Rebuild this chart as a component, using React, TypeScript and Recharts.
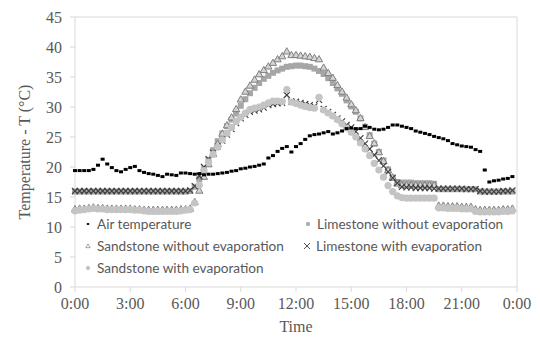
import React from 'react';
import { LineChart, Line, XAxis, YAxis, ReferenceLine, Label } from 'recharts';

// quarter-hour samples, 0:00 .. 23:45
const hours: number[] = Array.from({ length: 96 }, (_, i) => i / 4);

const tickHours = [0, 3, 6, 9, 12, 15, 18, 21, 24];
const tickLabels = ['0:00', '3:00', '6:00', '9:00', '12:00', '15:00', '18:00', '21:00', '0:00'];
const yTicks = [0, 5, 10, 15, 20, 25, 30, 35, 40, 45];

const airTemperature = [
  19.4, 19.4, 19.4, 19.4, 19.6, 20.3, 21.3, 20.5, 19.9, 19.4, 19.2, 19.6,
  19.9, 20.1, 19.4, 19.1, 18.9, 18.8, 18.6, 18.4, 18.8, 18.7, 18.6, 19.0,
  19.0, 18.9, 18.8, 18.9, 18.7, 18.8, 18.8, 18.9, 19.0, 19.1, 19.3, 19.4,
  19.7, 19.8, 20.0, 20.1, 20.3, 20.5, 21.5, 21.9, 22.6, 23.1, 23.4, 22.5,
  23.4, 23.9, 24.6, 25.2, 25.4, 25.5, 25.7, 25.9, 25.5, 25.7, 26.0, 26.4,
  26.5, 26.4, 26.4, 26.8, 26.6, 26.3, 26.2, 26.3, 26.6, 27.0, 27.0, 26.8,
  26.6, 26.4, 26.0, 25.8, 25.6, 25.4, 25.1, 24.9, 24.7, 24.4, 23.9, 23.7,
  23.5, 23.4, 23.3, 22.9, 22.6, 19.5, 17.5, 17.7, 17.8, 18.0, 18.1, 18.4,
];

const limestoneWithout = [
  15.9, 15.9, 15.9, 15.9, 15.9, 15.9, 15.9, 15.9, 15.9, 15.9, 15.9, 15.9,
  15.9, 15.9, 15.9, 15.9, 15.9, 15.9, 15.9, 15.9, 15.9, 15.9, 15.9, 15.9,
  15.9, 16.0, 16.7, 18.0, 19.6, 21.2, 22.8, 24.3, 25.6, 26.8, 27.9, 28.9,
  30.2, 31.3, 32.3, 33.2, 34.0, 34.7, 35.2, 35.7, 36.1, 36.4, 36.7, 36.8,
  36.9, 36.9, 36.8, 36.7, 36.4, 36.0, 35.5, 34.8, 34.0, 33.1, 32.2, 31.1,
  30.1, 29.2, 28.1, 26.7, 25.3, 23.9, 22.5, 21.1, 19.6, 18.2, 17.5, 17.4,
  17.4, 17.4, 17.3, 17.3, 17.3, 17.3, 17.2, 16.3, 16.3, 16.3, 16.3, 16.3,
  16.3, 16.3, 16.3, 16.3, 15.9, 15.9, 15.9, 15.9, 15.9, 15.9, 15.9, 15.9,
];

const sandstoneWithout = [
  13.0, 13.1, 13.1, 13.2, 13.3, 13.2, 13.2, 13.1, 13.1, 13.1, 13.1, 13.1,
  13.1, 13.0, 13.0, 12.9, 12.9, 12.9, 12.9, 12.9, 12.9, 12.9, 12.9, 13.0,
  13.0, 13.1, 14.2, 16.1, 18.4, 20.5, 22.2, 23.9, 25.6, 27.0, 28.3, 29.7,
  31.3, 32.6, 33.6, 34.6, 35.5, 36.2, 36.8, 37.4, 38.0, 38.5, 39.3, 38.7,
  38.7, 38.6, 38.5, 38.4, 38.2, 38.0, 36.6, 35.7, 34.9, 33.7, 32.6, 31.6,
  30.5, 29.5, 28.2, 26.7, 25.2, 24.0, 22.5, 21.0, 19.5, 18.3, 17.3, 17.0,
  17.0, 17.0, 17.0, 17.0, 17.0, 17.0, 17.0, 13.6, 13.6, 13.5, 13.5, 13.5,
  13.4, 13.4, 13.4, 13.0, 12.9, 12.9, 12.9, 12.9, 12.9, 13.0, 13.0, 13.1,
];

const limestoneWith = [
  16.0, 16.0, 16.0, 16.0, 16.0, 16.0, 16.0, 16.0, 16.0, 16.0, 16.0, 16.0,
  16.0, 16.0, 16.0, 16.0, 16.0, 16.0, 16.0, 16.0, 16.0, 16.0, 16.0, 16.0,
  16.0, 16.1, 16.8, 18.5, 20.0, 21.3, 22.4, 23.4, 24.4, 25.4, 26.3, 27.3,
  28.1, 28.7, 29.2, 29.4, 29.6, 29.9, 30.3, 30.5, 30.6, 30.7, 32.0, 30.9,
  30.9, 30.7, 30.5, 30.3, 30.1, 31.2, 29.7, 29.2, 28.7, 28.1, 27.6, 27.0,
  26.6, 25.9, 24.8, 23.9, 23.0, 22.0, 21.1, 20.2, 19.2, 18.2, 17.3, 16.7,
  16.6, 16.6, 16.5, 16.5, 16.5, 16.5, 16.4, 16.4, 16.4, 16.4, 16.4, 16.4,
  16.4, 16.3, 16.3, 16.3, 16.0, 15.9, 15.9, 15.9, 15.9, 16.0, 16.0, 16.1,
];

const sandstoneWith = [
  12.7, 12.8, 12.9, 13.0, 13.1, 13.0, 13.0, 12.9, 12.9, 12.9, 12.9, 12.9,
  12.9, 12.8, 12.8, 12.7, 12.6, 12.6, 12.6, 12.6, 12.6, 12.6, 12.6, 12.7,
  12.8, 12.9, 14.0, 17.0, 19.4, 20.8, 22.1, 23.3, 24.5, 25.6, 26.6, 27.6,
  28.3, 29.0, 29.6, 29.8, 30.0, 30.3, 30.7, 31.0, 31.0, 30.9, 32.9, 30.8,
  30.6, 30.3, 30.1, 29.9, 29.8, 31.6, 29.5, 29.0, 28.5, 27.9, 27.2, 26.5,
  25.8, 25.0, 24.0, 23.0, 21.9, 20.6, 19.5, 18.3, 16.9, 15.9, 15.2, 14.9,
  14.8, 14.8, 14.8, 14.8, 14.8, 14.8, 14.8, 13.2, 13.2, 13.1, 13.1, 13.1,
  13.0, 13.0, 13.0, 12.6, 12.5, 12.5, 12.5, 12.5, 12.5, 12.6, 12.6, 12.7,
];

const data = hours.map((t, i) => ({
  t,
  air: airTemperature[i],
  lw: limestoneWithout[i],
  sw: sandstoneWithout[i],
  lx: limestoneWith[i],
  sx: sandstoneWith[i],
}));

const AXIS = '#d9d9d9';
const TEXT = '#595959';
const serif = '"Liberation Serif", "Times New Roman", serif';

type Kind = 'air' | 'lw' | 'sw' | 'lx' | 'sx';

function Marker({ kind, cx, cy, small }: { kind: Kind; cx: number; cy: number; small?: boolean }) {
  const s = small ? 0.6 : 1;
  switch (kind) {
    case 'air':
      return <rect x={cx - 2 * s} y={cy - 1.5 * s} width={4 * s} height={3 * s} fill="#000" />;
    case 'lw':
      return <rect x={cx - 3 * s} y={cy - 3 * s} width={6 * s} height={6 * s} fill="#a6a6a6" />;
    case 'sw':
      return (
        <path
          d={`M${cx},${cy - 3.5 * s}L${cx + 3.6 * s},${cy + 2.8 * s}L${cx - 3.6 * s},${cy + 2.8 * s}Z`}
          fill={small ? '#fff' : '#d4d4d4'}
          stroke="#7f7f7f"
          strokeWidth={small ? 0.7 : 1}
        />
      );
    case 'lx': {
      const k = small ? 3 : 3;
      return (
        <path
          d={`M${cx - k},${cy - k}L${cx + k},${cy + k}M${cx + k},${cy - k}L${cx - k},${cy + k}`}
          stroke="#404040"
          strokeWidth={small ? 0.9 : 1.2}
        />
      );
    }
    default:
      return <circle cx={cx} cy={cy} r={3.6 * s} fill="#c4c4c4" />;
  }
}

const dotFor = (kind: Kind) => (props: any) => {
  const { cx, cy, index } = props;
  if (cx == null || cy == null) return <g key={`${kind}-${index}`} />;
  return (
    <g key={`${kind}-${index}`}>
      <Marker kind={kind} cx={cx} cy={cy} />
    </g>
  );
};

const legendItems: { kind: Kind; label: string; x: number; y: number }[] = [
  { kind: 'air', label: 'Air temperature', x: 88, y: 224 },
  { kind: 'lw', label: 'Limestone without evaporation', x: 308, y: 224 },
  { kind: 'sw', label: 'Sandstone without evaporation', x: 88, y: 246 },
  { kind: 'lx', label: 'Limestone with evaporation', x: 307, y: 246 },
  { kind: 'sx', label: 'Sandstone with evaporation', x: 88, y: 268 },
];

export default function App() {
  return (
    <div style={{ position: 'absolute', left: 0, top: 0, width: 540, height: 339, background: '#fff' }}>
      <LineChart width={540} height={339} data={data} margin={{ top: 17, right: 23, bottom: 22, left: 15 }}>
        <XAxis
          dataKey="t"
          type="number"
          domain={[0, 24]}
          ticks={tickHours}
          tickFormatter={(v: number) => tickLabels[tickHours.indexOf(v)]}
          height={30}
          stroke={AXIS}
          tickSize={5}
          tickMargin={6}
          tick={{ fill: TEXT, fontSize: 16, fontFamily: serif }}
        >
          <Label value="Time" position="bottom" offset={4} style={{ fill: TEXT, fontSize: 16, fontFamily: serif }} />
        </XAxis>
        <YAxis
          type="number"
          domain={[0, 45]}
          ticks={yTicks}
          width={60}
          stroke={AXIS}
          tickSize={5}
          tickMargin={8}
          tick={{ fill: TEXT, fontSize: 16, fontFamily: serif }}
        >
          <Label
            content={() => (
              <text
                x={26}
                y={152}
                transform="rotate(-90 26 152)"
                textAnchor="middle"
                dominantBaseline="middle"
                fill={TEXT}
                fontSize={16}
                fontFamily={serif}
              >
                Temperature - T (°C)
              </text>
            )}
          />
        </YAxis>
        <ReferenceLine y={45} stroke={AXIS} />
        <ReferenceLine x={24} stroke={AXIS} />
        <Line dataKey="lw" stroke="none" dot={dotFor('lw')} activeDot={false} isAnimationActive={false} />
        <Line dataKey="sw" stroke="none" dot={dotFor('sw')} activeDot={false} isAnimationActive={false} />
        <Line dataKey="lx" stroke="none" dot={dotFor('lx')} activeDot={false} isAnimationActive={false} />
        <Line dataKey="sx" stroke="none" dot={dotFor('sx')} activeDot={false} isAnimationActive={false} />
        <Line dataKey="air" stroke="none" dot={dotFor('air')} activeDot={false} isAnimationActive={false} />
      </LineChart>
      {legendItems.map((it) => (
        <div key={it.label} style={{ position: 'absolute', left: it.x - 6, top: it.y - 10, height: 20, display: 'flex', alignItems: 'center' }}>
          <svg width={12} height={12} style={{ display: 'block' }}>
            <Marker kind={it.kind} cx={6} cy={6} small />
          </svg>
          <span style={{ marginLeft: 3, fontFamily: 'Lato, sans-serif', fontSize: 13.6, color: TEXT, whiteSpace: 'nowrap' }}>{it.label}</span>
        </div>
      ))}
    </div>
  );
}
